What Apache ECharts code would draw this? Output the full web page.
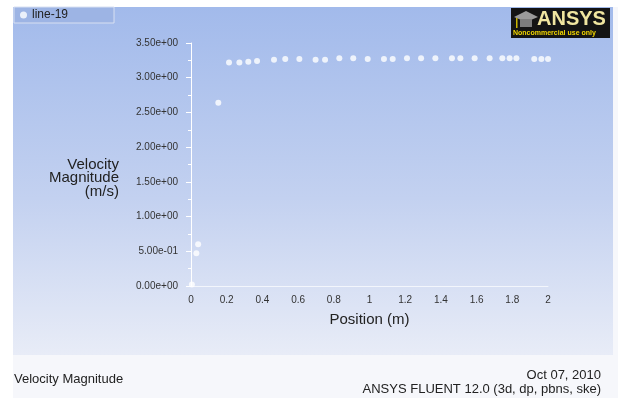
<!DOCTYPE html>
<html>
<head>
<meta charset="utf-8">
<script src="https://cdn.jsdelivr.net/npm/echarts@6/dist/echarts.min.js"></script>
<style>
  html, body { margin: 0; padding: 0; background: #ffffff; }
  #wrap { position: relative; width: 618px; height: 398px; background: #f6f7fb; }
  #plotBg {
    position: absolute; left: 13px; top: 7px; width: 600px; height: 348px;
    background: linear-gradient(to bottom, #a2baeb 0%, #c3d1f0 55%, #e8ecf7 100%);
  }
  #leftPad { position: absolute; left: 0; top: 0; width: 13px; height: 398px; background: #ffffff; }
  #topPad { position: absolute; left: 0; top: 0; width: 618px; height: 7px; background: #ffffff; }
  #main { position: absolute; left: 0; top: 0; width: 618px; height: 398px; }
</style>
</head>
<body>
<div id="wrap">
  <div id="plotBg"></div>
  <div id="leftPad"></div>
  <div id="topPad"></div>
  <div id="main"></div>
</div>
<script>
  // values
  const positions = [0.005, 0.03, 0.04, 0.153, 0.213, 0.271, 0.321, 0.370, 0.465, 0.528,
    0.607, 0.698, 0.751, 0.831, 0.909, 0.990, 1.081, 1.130, 1.210, 1.289,
    1.369, 1.462, 1.509, 1.589, 1.673, 1.744, 1.785, 1.823, 1.923, 1.963, 2.0];
  const velocities = [0.02, 0.47, 0.60, 2.64, 3.22, 3.22, 3.23, 3.24, 3.26, 3.27,
    3.27, 3.26, 3.26, 3.28, 3.28, 3.27, 3.27, 3.27, 3.28, 3.28,
    3.28, 3.28, 3.28, 3.28, 3.28, 3.28, 3.28, 3.28, 3.27, 3.27, 3.27];
  const seriesName = "line-19";
  const yTitle = ["Velocity", "Magnitude", "(m/s)"];
  const xTitle = "Position (m)";
  const footLeft = "Velocity Magnitude";
  const footDate = "Oct 07, 2010";
  const footVersion = "ANSYS FLUENT 12.0 (3d, dp, pbns, ske)";

  const font = "Liberation Sans, Arial, sans-serif";

  function expLabel(v) {
    const s = Number(v).toExponential(2);
    return s.replace(/e([+-])(\d)$/, "e$10$2");
  }

  const chart = echarts.init(document.getElementById("main"));
  chart.setOption({
    animation: false,
    backgroundColor: "transparent",
    textStyle: { fontFamily: font },
    grid: { left: 191, right: 70, top: 43, bottom: 112 },
    legend: {
      left: 14, top: 7,
      padding: [2, 46, 2, 6],
      backgroundColor: "#9db4e4",
      borderColor: "#d8e0f2", borderWidth: 1,
      itemWidth: 7, itemHeight: 7, itemGap: 6,
      icon: "circle",
      textStyle: { color: "#222", fontSize: 12, fontFamily: font },
      data: [seriesName]
    },
    xAxis: {
      type: "value", min: 0, max: 2, interval: 0.2,
      name: xTitle, nameLocation: "middle", nameGap: 26,
      nameTextStyle: { color: "#222", fontSize: 15, fontFamily: font },
      axisLine: { onZero: false, lineStyle: { color: "rgba(255,255,255,0.7)", width: 1 } },
      axisTick: { show: false },
      splitLine: { show: false },
      axisLabel: {
        color: "#333", fontSize: 10, margin: 9,
        formatter: v => String(Math.round(v * 10) / 10)
      }
    },
    yAxis: {
      type: "value", min: 0, max: 3.5, interval: 0.5,
      axisLine: { show: true, lineStyle: { color: "#ffffff", width: 1 } },
      axisTick: { show: true, inside: false, length: 5, lineStyle: { color: "#ffffff" } },
      minorTick: { show: true, splitNumber: 2, length: 3, lineStyle: { color: "#ffffff" } },
      splitLine: { show: false },
      axisLabel: { color: "#333", fontSize: 10, margin: 13, formatter: expLabel }
    },
    graphic: [
      {
        type: "text", x: 119, y: 158,
        style: {
          text: yTitle.join("\n"), fill: "#222", font: "15px " + font,
          align: "right", lineHeight: 13.5
        }
      },
      {
        type: "text", left: 14, top: 373,
        style: { text: footLeft, fill: "#222", font: "13px " + font }
      },
      {
        type: "text", right: 17, top: 369,
        style: { text: footDate, fill: "#222", font: "13px " + font, align: "right" }
      },
      {
        type: "text", right: 17, top: 383,
        style: { text: footVersion, fill: "#222", font: "13px " + font, align: "right" }
      },
      {
        type: "group", left: 511, top: 8,
        children: [
          { type: "rect", shape: { x: 0, y: 0, width: 99, height: 30 }, style: { fill: "#141414" } },
          { type: "polygon", shape: { points: [[3, 9], [15, 3], [27, 9], [15, 14]] }, style: { fill: "#9a9a9a" } },
          { type: "rect", shape: { x: 9, y: 11, width: 12, height: 8 }, style: { fill: "#7d7d7d" } },
          { type: "rect", shape: { x: 5, y: 10, width: 1.5, height: 10 }, style: { fill: "#c9b400" } },
          {
            type: "text", x: 26, y: 1,
            style: { text: "ANSYS", fill: "#f1e6a0", font: "bold 20px " + font }
          },
          {
            type: "text", x: 2, y: 22,
            style: { text: "Noncommercial use only", fill: "#f2d600", font: "bold 7px " + font }
          }
        ]
      }
    ],
    series: [
      {
        name: seriesName,
        type: "scatter",
        symbol: "circle",
        symbolSize: 6,
        itemStyle: { color: "#ffffff" },
        data: positions.map((p, i) => [p, velocities[i]])
      }
    ]
  });
</script>
</body>
</html>
